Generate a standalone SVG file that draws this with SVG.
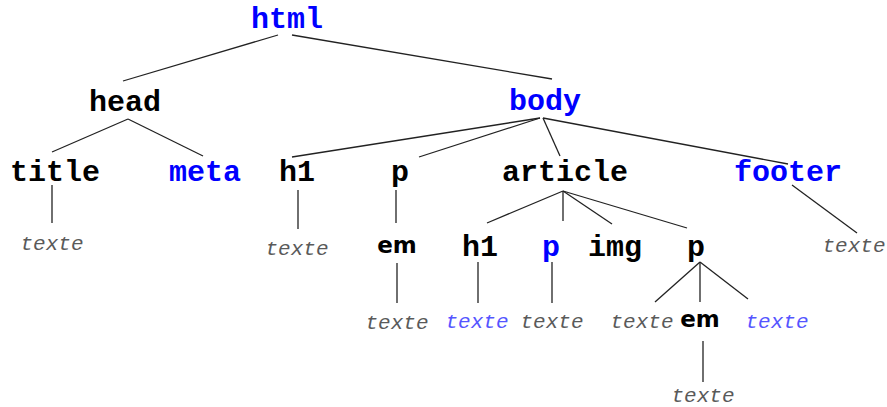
<svg xmlns="http://www.w3.org/2000/svg" width="887" height="407" viewBox="0 0 887 407">
<style>
.tag{font-family:"Liberation Mono","Courier New",monospace;font-weight:bold;font-size:30px;text-anchor:middle;fill:#000}
.blue{fill:#0000ff}
.em{font-family:"DejaVu Sans","Liberation Sans",Arial,sans-serif;font-weight:bold;font-size:23px;text-anchor:middle;fill:#000}
.tx{font-family:"Liberation Mono","Courier New",monospace;font-style:italic;font-size:21px;text-anchor:middle;fill:#5a5a5a}
.tb{fill:#5555ff}
.c line{stroke:#222;stroke-width:1.3}
</style>
<rect width="887" height="407" fill="#fff"/>
<g class="c" id="connectors">
<line x1="278" y1="35" x2="123" y2="81"/>
<line x1="292" y1="35" x2="552" y2="79"/>
<line x1="128" y1="119" x2="52" y2="152"/>
<line x1="128" y1="119" x2="203" y2="156"/>
<line x1="540" y1="118" x2="292" y2="157"/>
<line x1="540" y1="118" x2="419" y2="157"/>
<line x1="543" y1="118" x2="560" y2="156"/>
<line x1="543" y1="118" x2="788" y2="164"/>
<line x1="52" y1="185" x2="52" y2="223"/>
<line x1="298" y1="190" x2="298" y2="229"/>
<line x1="396" y1="190" x2="396" y2="223"/>
<line x1="397" y1="263" x2="397" y2="303"/>
<line x1="563" y1="191" x2="487" y2="223"/>
<line x1="563" y1="191" x2="563" y2="221"/>
<line x1="563" y1="191" x2="612" y2="224"/>
<line x1="563" y1="191" x2="687" y2="228"/>
<line x1="792" y1="185" x2="857" y2="233"/>
<line x1="478" y1="262" x2="478" y2="303"/>
<line x1="552" y1="262" x2="552" y2="303"/>
<line x1="700" y1="262" x2="655" y2="302"/>
<line x1="700" y1="262" x2="700" y2="302"/>
<line x1="700" y1="262" x2="748" y2="299"/>
<line x1="703" y1="341" x2="703" y2="382"/>
</g>
<g id="n-html"><text class="tag blue" x="287" y="28">html</text></g>
<g id="n-head"><text class="tag" x="125" y="111">head</text></g>
<g id="n-body"><text class="tag blue" x="545" y="110">body</text></g>
<g id="n-title"><text class="tag" x="55" y="181">title</text></g>
<g id="n-title-texte"><text class="tx" x="52" y="250">texte</text></g>
<g id="n-meta"><text class="tag blue" x="205" y="181">meta</text></g>
<g id="n-h1"><text class="tag" x="297" y="181">h1</text></g>
<g id="n-h1-texte"><text class="tx" x="297" y="255">texte</text></g>
<g id="n-p"><text class="tag" x="400" y="181">p</text></g>
<g id="n-p-em"><text class="em" x="397" y="253">em</text></g>
<g id="n-p-em-texte"><text class="tx" x="397" y="329">texte</text></g>
<g id="n-article"><text class="tag" x="565" y="181">article</text></g>
<g id="n-art-h1"><text class="tag" x="480" y="256">h1</text></g>
<g id="n-art-h1-texte"><text class="tx tb" x="477" y="328">texte</text></g>
<g id="n-art-p"><text class="tag blue" x="551" y="256">p</text></g>
<g id="n-art-p-texte"><text class="tx" x="552" y="328">texte</text></g>
<g id="n-art-img"><text class="tag" x="615" y="256">img</text></g>
<g id="n-art-p2"><text class="tag" x="696" y="256">p</text></g>
<g id="n-p2-texte1"><text class="tx" x="642" y="328">texte</text></g>
<g id="n-p2-em"><text class="em" x="700" y="327">em</text></g>
<g id="n-p2-em-texte"><text class="tx" x="703" y="402">texte</text></g>
<g id="n-p2-texte2"><text class="tx tb" x="777" y="328">texte</text></g>
<g id="n-footer"><text class="tag blue" x="788" y="181">footer</text></g>
<g id="n-footer-texte"><text class="tx" x="854" y="252">texte</text></g>
</svg>
